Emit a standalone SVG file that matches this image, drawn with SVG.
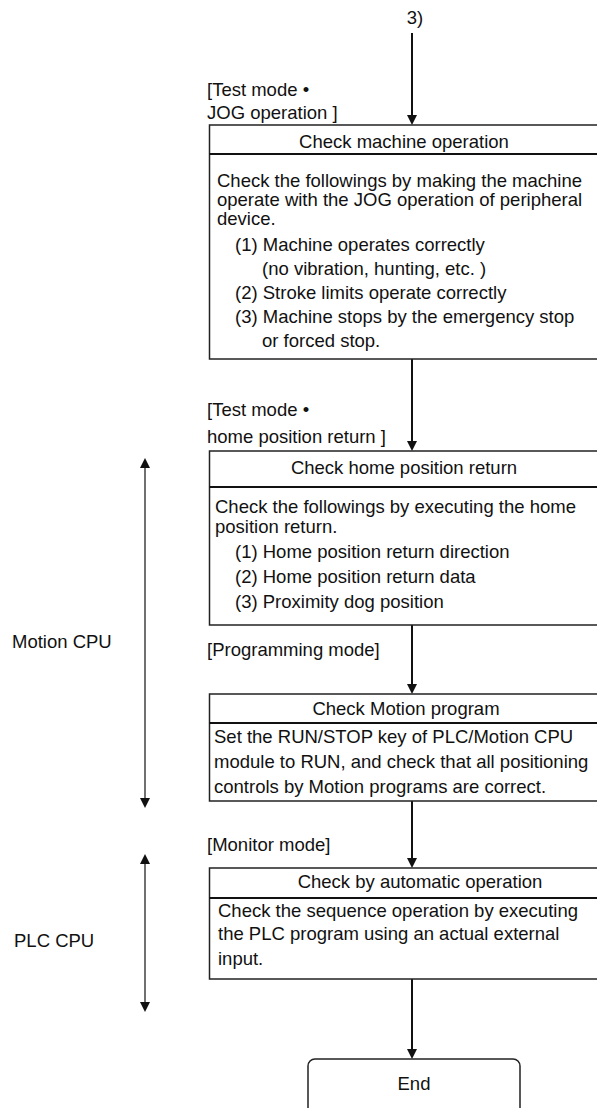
<svg xmlns="http://www.w3.org/2000/svg" width="597" height="1108" viewBox="0 0 597 1108">
<defs>
<style>
text{font-family:"Liberation Sans",Arial,sans-serif;font-size:18.5px;fill:#111}
.c{text-anchor:middle}
.box{fill:#fff;stroke:#222;stroke-width:1.5}
.div{stroke:#111;stroke-width:2.2}
.flow{stroke:#111;stroke-width:2;fill:none}
.span{stroke:#111;stroke-width:1.2;fill:none}
</style>
<marker id="ah" viewBox="0 0 10 10" refX="7" refY="5" markerWidth="10" markerHeight="10" markerUnits="userSpaceOnUse" orient="auto-start-reverse">
<path d="M0,0 L10,5 L0,10 Z" fill="#111"/>
</marker>
</defs>
<rect width="597" height="1108" fill="#fff"/>

<g id="connectors">
<path class="flow" d="M412,33 V122" marker-end="url(#ah)"/>
<path class="flow" d="M412,359 V448" marker-end="url(#ah)"/>
<path class="flow" d="M412,625 V691" marker-end="url(#ah)"/>
<path class="flow" d="M412,801 V865" marker-end="url(#ah)"/>
<path class="flow" d="M412,979 V1056" marker-end="url(#ah)"/>
<path class="span" d="M145,461 V805" marker-start="url(#ah)" marker-end="url(#ah)"/>
<path class="span" d="M145,857 V1009" marker-start="url(#ah)" marker-end="url(#ah)"/>
</g>

<g id="start-ref">
<text class="c" x="415" y="24">3)</text>
</g>

<g id="label-jog">
<text x="207" y="96">[Test mode •</text>
<text x="207" y="119">JOG operation ]</text>
</g>

<g id="node-machine">
<rect class="box" x="209.5" y="125" width="400" height="234"/>
<line class="div" x1="209.5" y1="154" x2="600" y2="154"/>
<text class="c" x="404" y="148">Check machine operation</text>
<text x="217" y="186.5">Check the followings by making the machine</text>
<text x="217" y="206">operate with the JOG operation of peripheral</text>
<text x="217" y="225">device.</text>
<text x="235" y="251">(1) Machine operates correctly</text>
<text x="262" y="275">(no vibration, hunting, etc. )</text>
<text x="235" y="299">(2) Stroke limits operate correctly</text>
<text x="235" y="323">(3) Machine stops by the emergency stop</text>
<text x="262" y="347">or forced stop.</text>
</g>

<g id="label-home">
<text x="207" y="416">[Test mode •</text>
<text x="207" y="443">home position return ]</text>
</g>

<g id="node-home">
<rect class="box" x="209.5" y="451" width="400" height="174"/>
<line class="div" x1="209.5" y1="487" x2="600" y2="487"/>
<text class="c" x="404" y="473.5">Check home position return</text>
<text x="215" y="513">Check the followings by executing the home</text>
<text x="215" y="533">position return.</text>
<text x="235" y="558">(1) Home position return direction</text>
<text x="235" y="583">(2) Home position return data</text>
<text x="235" y="608">(3) Proximity dog position</text>
</g>

<g id="label-programming">
<text x="207" y="656">[Programming mode]</text>
</g>

<g id="node-motion-program">
<rect class="box" x="209.5" y="694" width="400" height="107"/>
<line class="div" x1="209.5" y1="723" x2="600" y2="723"/>
<text class="c" x="406" y="715">Check Motion program</text>
<text x="214" y="743">Set the RUN/STOP key of PLC/Motion CPU</text>
<text x="214" y="768">module to RUN, and check that all positioning</text>
<text x="214" y="793">controls by Motion programs are correct.</text>
</g>

<g id="label-monitor">
<text x="207" y="851">[Monitor mode]</text>
</g>

<g id="node-auto">
<rect class="box" x="209.5" y="868" width="400" height="111"/>
<line class="div" x1="209.5" y1="898" x2="600" y2="898"/>
<text class="c" x="420" y="888">Check by automatic operation</text>
<text x="218" y="917">Check the sequence operation by executing</text>
<text x="218" y="940">the PLC program using an actual external</text>
<text x="218" y="965">input.</text>
</g>

<g id="node-end">
<rect class="box" x="308" y="1059" width="212" height="60" rx="7" ry="7"/>
<text class="c" x="414" y="1090">End</text>
</g>

<g id="span-labels">
<text x="12" y="648">Motion CPU</text>
<text x="14" y="947">PLC CPU</text>
</g>
</svg>
